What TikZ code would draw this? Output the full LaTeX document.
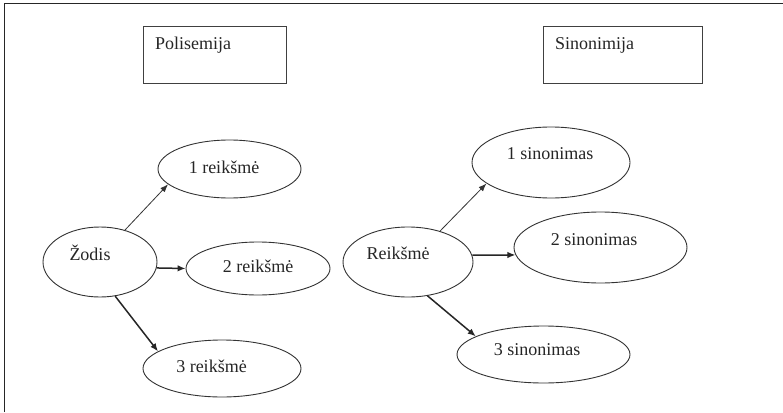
\documentclass[tikz,border=0pt]{standalone}
\usepackage{fontspec}
\setmainfont{Liberation Serif}
\usetikzlibrary{shapes.geometric,arrows.meta}
\begin{document}
\begin{tikzpicture}[x=1pt,y=-1pt,
  ell/.style={draw=black!80,line width=0.9pt,ellipse,inner sep=0pt},
  lbl/.style={inner sep=0pt,font=\fontsize{18}{20}\selectfont,text=black!85},
  ttlbox/.style={draw=black!75,line width=1pt,inner sep=0pt,minimum width=#1,minimum height=56pt},
  thinarr/.style={draw=black!80,line width=0.8pt,-{Latex[length=8pt,width=6pt]}},
  thickarr/.style={draw=black!85,line width=1.5pt,-{Latex[length=8pt,width=6.5pt]}}]
\useasboundingbox (0,0) rectangle (783,412);
\fill[white] (0,0) rectangle (783,412);
% frame
\coordinate (fbl) at (4.5,412);
\coordinate (ftl) at (4.5,3.5);
\coordinate (ftr) at (783,3.5);
\draw[black!85,line width=1.3pt] (fbl) -- (ftl) -- (ftr);
% title boxes
\node[ttlbox=143pt] (bpol) at (214.5,55) {};
\node[lbl,anchor=west] (tpol) at (155,45) {Polisemija};
\node[ttlbox=159pt] (bsin) at (622.5,55) {};
\node[lbl,anchor=west] (tsin) at (555,45) {Sinonimija};
% left ellipses
\node[ell,minimum width=114pt,minimum height=70pt] (zod) at (100,262) {};
\node[lbl] (tzod) at (90,253) {Žodis};
\node[ell,minimum width=143pt,minimum height=58pt] (r1) at (229.5,169) {};
\node[lbl] (tr1) at (224,167) {1 reikšmė};
\node[ell,minimum width=144pt,minimum height=53pt] (r2) at (258,268.5) {};
\node[lbl] (tr2) at (258,266) {2 reikšmė};
\node[ell,minimum width=158pt,minimum height=57pt] (r3) at (222,368.5) {};
\node[lbl] (tr3) at (211.5,366) {3 reikšmė};
% right ellipses
\node[ell,minimum width=130pt,minimum height=70pt] (rk) at (408,262) {};
\node[lbl] (trk) at (398,253) {Reikšmė};
\node[ell,minimum width=158pt,minimum height=71pt] (s1) at (551,162.5) {};
\node[lbl] (ts1) at (550,154) {1 sinonimas};
\node[ell,minimum width=173pt,minimum height=71pt] (s2) at (600.5,247.5) {};
\node[lbl] (ts2) at (594,240) {2 sinonimas};
\node[ell,minimum width=173pt,minimum height=57pt] (s3) at (543.5,354.5) {};
\node[lbl] (ts3) at (537,350) {3 sinonimas};
% arrows
\draw[thinarr] (zod.52) -- (r1.194);
\draw[thickarr] (zod.354) -- (r2.180);
\draw[thickarr] (zod.-66) -- (r3.165);
\draw[thinarr] (rk.44) -- (s1.198);
\draw[thickarr] (rk.6) -- (s2.185);
\draw[thickarr] (rk.-60) -- (s3.165);
\end{tikzpicture}
\end{document}
